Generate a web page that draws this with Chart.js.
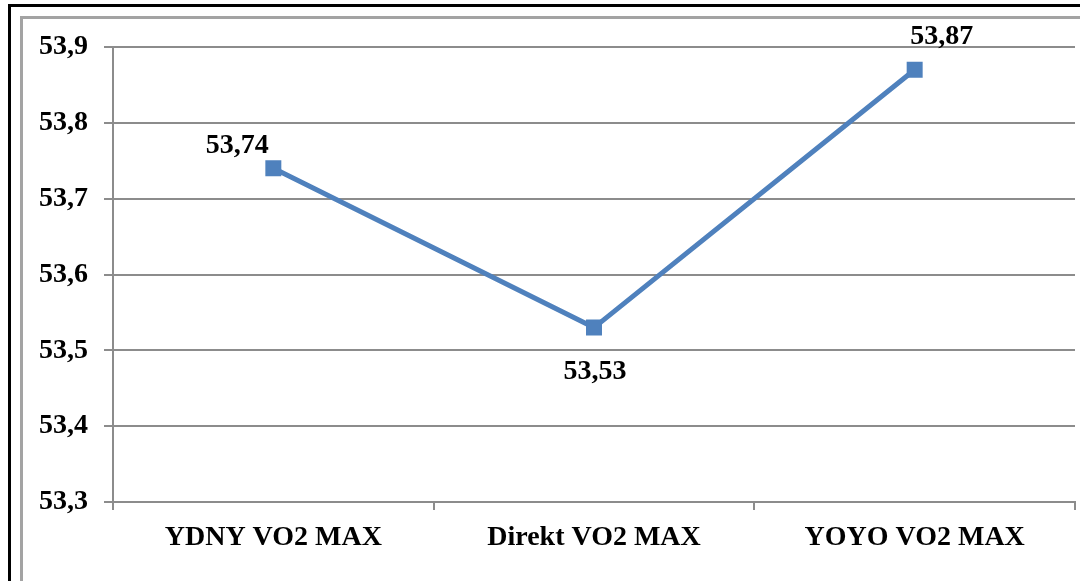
<!DOCTYPE html>
<html>
<head>
<meta charset="utf-8">
<script src="https://cdn.jsdelivr.net/npm/chart.js@4/dist/chart.umd.min.js"></script>
<style>
  html, body { margin: 0; padding: 0; background: #fff; overflow: hidden; }
  #frame { position: absolute; left: 8px; top: 4px; width: 1200px; height: 700px; border: 3px solid #000; box-sizing: border-box; }
  #panel { position: absolute; left: 20px; top: 16px; width: 1200px; height: 700px; border: 3px solid #a3a3a3; box-sizing: border-box; }
  #chart { position: absolute; left: 0; top: 0; }
</style>
</head>
<body>
<div id="frame"></div>
<div id="panel"></div>
<canvas id="chart" width="1080" height="581"></canvas>
<script>
// VO2 max averages for the three measurement methods
const categories = ['YDNY VO2 MAX', 'Direkt VO2 MAX', 'YOYO VO2 MAX'];
const vo2Values = [53.74, 53.53, 53.87];
const yTickMin = 53.3;
const yTickMax = 53.9;
const yTickStep = 0.1;

// where each value label sits relative to its point (px)
const labelShift = [
  { dx: -36, dy: -15 },
  { dx: 1, dy: 51 },
  { dx: 27, dy: -26 }
];

const commaDecimal = (v, digits) => v.toFixed(digits).replace('.', ',');

const FONT = "'Liberation Serif', 'Times New Roman', serif";
const GRID = '#8c8c8c';

const valueLabels = {
  id: 'valueLabels',
  afterDatasetsDraw(chart) {
    const ctx = chart.ctx;
    const meta = chart.getDatasetMeta(0);
    ctx.save();
    ctx.font = 'bold 28px ' + FONT;
    ctx.fillStyle = '#000';
    ctx.textAlign = 'center';
    ctx.textBaseline = 'alphabetic';
    meta.data.forEach((pt, i) => {
      const s = labelShift[i];
      ctx.fillText(commaDecimal(vo2Values[i], 2), pt.x + s.dx, pt.y + s.dy);
    });
    ctx.restore();
  }
};

new Chart(document.getElementById('chart'), {
  type: 'line',
  data: {
    labels: categories,
    datasets: [{
      data: vo2Values,
      borderColor: '#4f81bd',
      backgroundColor: '#4f81bd',
      borderWidth: 5,
      pointStyle: 'rect',
      pointRadius: 11.3,
      pointBorderWidth: 0,
      pointBackgroundColor: '#4f81bd',
      tension: 0,
      fill: false
    }]
  },
  options: {
    responsive: false,
    devicePixelRatio: 1,
    animation: false,
    layout: { autoPadding: false, padding: { left: 0, top: 47, right: 5, bottom: 0 } },
    plugins: { legend: { display: false }, tooltip: { enabled: false } },
    scales: {
      x: {
        offset: true,
        border: { color: GRID, width: 2 },
        grid: { offset: true, drawOnChartArea: false, drawTicks: true, tickLength: 8, color: GRID, lineWidth: 2 },
        ticks: { color: '#000', padding: 11, maxRotation: 0, font: { family: FONT, size: 28, weight: 'bold' } },
        afterFit(scale) { scale.height = 79; }
      },
      y: {
        min: yTickMin,
        max: yTickMax,
        border: { color: GRID, width: 2 },
        grid: { color: GRID, lineWidth: 2, tickLength: 9 },
        ticks: {
          stepSize: yTickStep,
          padding: 16,
          color: '#000',
          font: { family: FONT, size: 28, weight: 'bold' },
          callback: (v) => commaDecimal(v, 1)
        },
        afterFit(scale) { scale.width = 113; }
      }
    }
  },
  plugins: [valueLabels]
});
</script>
</body>
</html>
